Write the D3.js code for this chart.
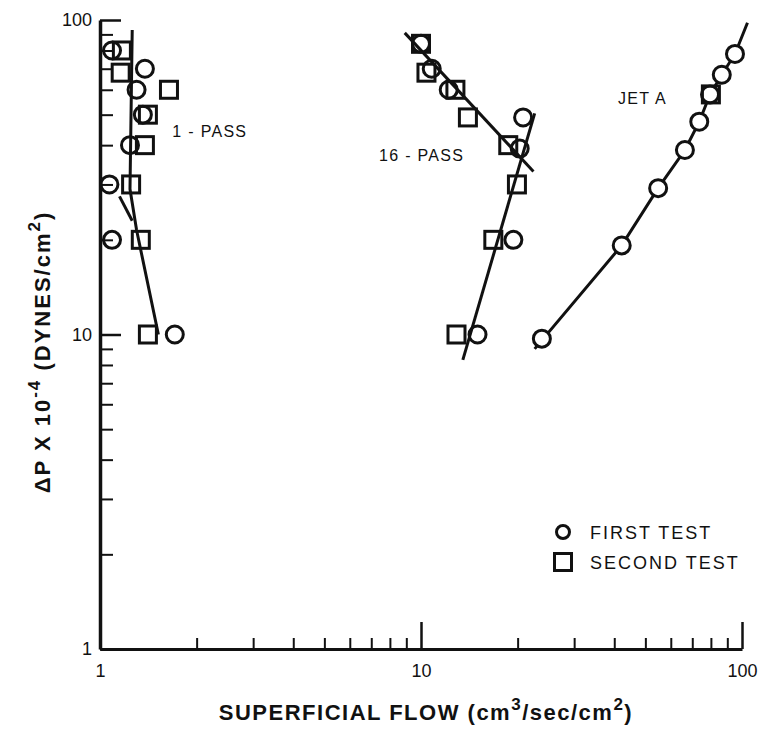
<!DOCTYPE html>
<html>
<head>
<meta charset="utf-8">
<script src="https://cdn.jsdelivr.net/npm/d3@7"></script>
<style>
  body { margin: 0; background: #fff; }
  text { font-family: "Liberation Sans", Arial, sans-serif; fill: #111; }
</style>
</head>
<body>
<div id="chart"></div>
<script>
// DATA  [superficial flow, delta P x 1e-4]
const pass1First  = [[1.09, 80], [1.38, 70], [1.30, 60], [1.36, 50], [1.24, 40], [1.07, 30], [1.09, 20], [1.71, 10]]
const pass1Second = [[1.17, 80], [1.16, 68], [1.64, 60], [1.41, 50], [1.38, 40], [1.25, 30], [1.34, 20], [1.41, 10]]
const pass16First  = [[10.0, 84], [10.8, 70], [12.2, 60], [20.8, 49], [20.3, 39], [19.4, 20], [15.0, 10]]
const pass16Second = [[10.0, 84], [10.4, 68], [12.8, 60], [14.0, 49], [18.7, 40], [19.9, 30], [16.8, 20], [12.9, 10]]
const jetFirst  = [[95.1, 78], [86.5, 67], [79.5, 58], [73.6, 47.5], [66.4, 38.6], [54.8, 29.2], [42.2, 19.2], [23.8, 9.7]]
const jetSecond = [[80.0, 58]]

// fitted curves
const pass1Fit  = [[1.26, 93], [1.24, 29], [1.30, 21.5], [1.52, 10]]
const pass1Spur = [[1.15, 27.5], [1.26, 23]]
const pass16FitUpper = [[8.9, 91], [22.4, 33]]
const pass16FitLower = [[22.6, 50.5], [13.5, 8.3]]
const jetFit = [[22.6, 9.0], [42.2, 19.2], [54.8, 29.2], [66.4, 38.6], [73.6, 47.5], [79.5, 58], [86.5, 67], [95.1, 78], [104, 98]]

const curveLabels = [
  { text: "1 - PASS", x: 1.68, y: 42.5 },
  { text: "16 - PASS", x: 7.4, y: 35.6 },
  { text: "JET A", x: 41.1, y: 54.1 }
]

const majorTicks = [1, 10, 100]
const minorTicks = [2, 3, 4, 5, 6, 7, 8, 9, 20, 30, 40, 50, 60, 70, 80, 90]

const width = 760, height = 731

const svg = d3.select("#chart").append("svg")
  .attr("width", width)
  .attr("height", height)

// SCALES
const xScale = d3.scaleLog().domain([1, 100]).range([100, 742])
const yScale = d3.scaleLog().domain([1, 100]).range([649, 20])

// X AXIS
svg.append("g")
  .attr("transform", `translate(0, ${yScale(1)})`)
  .call(d3.axisBottom(xScale).tickValues(minorTicks).tickSize(-11).tickFormat(""))
  .call(g => g.select(".domain").remove())
  .selectAll("line").attr("stroke", "#111").attr("stroke-width", 2)

const xMajor = svg.append("g")
  .attr("transform", `translate(0, ${yScale(1)})`)
  .call(d3.axisBottom(xScale).tickValues(majorTicks).tickSizeInner(-27).tickSizeOuter(0)
    .tickPadding(15).tickFormat(d3.format("d")))
xMajor.select(".domain").attr("stroke", "#111").attr("stroke-width", 3)
xMajor.selectAll("line").attr("stroke", "#111").attr("stroke-width", 2.5)
xMajor.selectAll("text").attr("font-size", 18)

// Y AXIS
svg.append("g")
  .attr("transform", `translate(${xScale(1)}, 0)`)
  .call(d3.axisLeft(yScale).tickValues(minorTicks).tickSize(-13).tickFormat(""))
  .call(g => g.select(".domain").remove())
  .selectAll("line").attr("stroke", "#111").attr("stroke-width", 2)

const yMajor = svg.append("g")
  .attr("transform", `translate(${xScale(1)}, 0)`)
  .call(d3.axisLeft(yScale).tickValues(majorTicks).tickSizeInner(-21).tickSizeOuter(0)
    .tickPadding(8).tickFormat(d3.format("d")))
yMajor.select(".domain").attr("stroke", "#111").attr("stroke-width", 3.5)
yMajor.selectAll("line").attr("stroke", "#111").attr("stroke-width", 2.5)
yMajor.selectAll("text").attr("font-size", 18)

// AXIS TITLES
const xTitle = svg.append("text")
  .attr("x", 426)
  .attr("y", 720)
  .attr("text-anchor", "middle")
  .attr("font-size", 22)
  .attr("font-weight", "bold")
  .attr("letter-spacing", 1.5)
xTitle.append("tspan").text("SUPERFICIAL FLOW (cm")
xTitle.append("tspan").attr("dy", -10).attr("font-size", 17).text("3")
xTitle.append("tspan").attr("dy", 10).text("/sec/cm")
xTitle.append("tspan").attr("dy", -10).attr("font-size", 17).text("2")
xTitle.append("tspan").attr("dy", 10).text(")")

const yTitle = svg.append("text")
  .attr("transform", "translate(50, 352) rotate(-90)")
  .attr("text-anchor", "middle")
  .attr("font-size", 22)
  .attr("font-weight", "bold")
  .attr("letter-spacing", 2)
yTitle.append("tspan").text("\u0394P X 10")
yTitle.append("tspan").attr("dy", -10).attr("font-size", 17).text("-4")
yTitle.append("tspan").attr("dy", 10).text(" (DYNES/cm")
yTitle.append("tspan").attr("dy", -10).attr("font-size", 17).text("2")
yTitle.append("tspan").attr("dy", 10).text(")")

// FIT LINES
const line = d3.line().x(d => xScale(d[0])).y(d => yScale(d[1]))
svg.selectAll(".fit")
  .data([pass1Fit, pass1Spur, pass16FitUpper, pass16FitLower, jetFit])
  .join("path")
    .attr("class", "fit")
    .attr("d", line)
    .attr("fill", "none")
    .attr("stroke", "#111")
    .attr("stroke-width", 3)

// MARKERS
const drawCircles = (data, fill) => {
  svg.append("g").selectAll("circle")
    .data(data)
    .join("circle")
      .attr("cx", d => xScale(d[0]))
      .attr("cy", d => yScale(d[1]))
      .attr("r", 8.5)
      .attr("fill", fill)
      .attr("stroke", "#111")
      .attr("stroke-width", 3)
}
const drawSquares = (data, fill) => {
  svg.append("g").selectAll("rect")
    .data(data)
    .join("rect")
      .attr("x", d => xScale(d[0]) - 8.5)
      .attr("y", d => yScale(d[1]) - 8.5)
      .attr("width", 17)
      .attr("height", 17)
      .attr("fill", fill)
      .attr("stroke", "#111")
      .attr("stroke-width", 3)
}
drawSquares(pass1Second, "none")
drawCircles(pass1First, "none")
drawSquares(pass16Second, "none")
drawCircles(pass16First, "none")
drawCircles(jetFirst, "white")
drawSquares(jetSecond, "none")

// CURVE LABELS
svg.selectAll(".curveLabel")
  .data(curveLabels)
  .join("text")
    .attr("class", "curveLabel")
    .attr("x", d => xScale(d.x))
    .attr("y", d => yScale(d.y))
    .attr("font-size", 16)
    .attr("letter-spacing", 1.3)
    .text(d => d.text)

// LEGEND
const legend = svg.append("g").attr("transform", "translate(563, 532)")
legend.append("circle")
  .attr("r", 6.5).attr("fill", "none").attr("stroke", "#111").attr("stroke-width", 3)
legend.append("rect")
  .attr("x", -8.5).attr("y", 21.5).attr("width", 17).attr("height", 17)
  .attr("fill", "none").attr("stroke", "#111").attr("stroke-width", 3)
legend.append("text").attr("x", 27).attr("y", 6.5).attr("font-size", 18)
  .attr("letter-spacing", 2).text("FIRST TEST")
legend.append("text").attr("x", 27).attr("y", 37).attr("font-size", 18)
  .attr("letter-spacing", 2).text("SECOND TEST")
</script>
</body>
</html>
